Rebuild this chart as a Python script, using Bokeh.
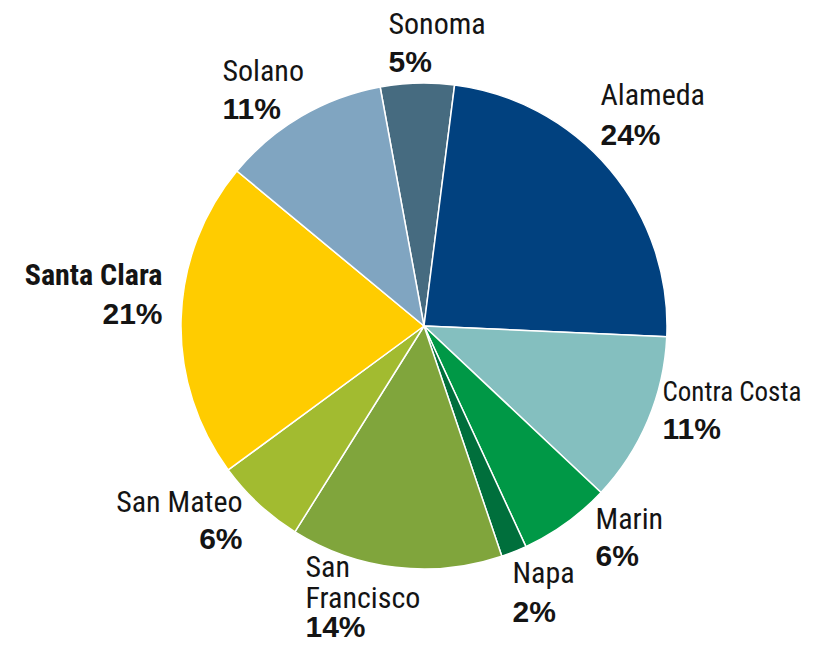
from math import pi
import numpy as np
from bokeh.plotting import figure
from bokeh.models import ColumnDataSource, Range1d
from bokeh.core.properties import value
from bokeh.embed import file_html
from bokeh.resources import INLINE

# ---- data (clockwise from the top) ----
counties = ["Sonoma", "Alameda", "Contra Costa", "Marin", "Napa",
            "San Francisco", "San Mateo", "Santa Clara", "Solano"]
shares = [4.9, 23.7, 11.3, 6.1, 1.7, 14.1, 6.0, 21.1, 11.1]
pct_labels = ["5%", "24%", "11%", "6%", "2%", "14%", "6%", "21%", "11%"]
colors = ["#466b80", "#01417f", "#84bfbf", "#009846", "#006f3c",
          "#80a53c", "#a2bb30", "#ffcc00", "#80a5c1"]

START_DEG = -10.4  # clockwise from 12 o'clock

W, H = 801, 646
p = figure(width=W, height=H, output_backend="svg", toolbar_location=None,
           x_range=Range1d(0, W), y_range=Range1d(-H, 0),
           min_border=0, outline_line_color=None)
p.axis.visible = False
p.grid.visible = False
p.background_fill_color = "white"
p.border_fill_color = "white"

frac = np.array(shares) / np.sum(shares)
cum = np.concatenate([[0], np.cumsum(frac)])
theta0 = np.radians(START_DEG) + cum[:-1] * 2 * pi
theta1 = np.radians(START_DEG) + cum[1:] * 2 * pi
src = ColumnDataSource(dict(
    county=counties, start=pi / 2 - theta0, end=pi / 2 - theta1, color=colors))

cx, cy, R = 423.5, -325.5, 243
p.wedge(x=cx, y=cy, radius=R, start_angle="start", end_angle="end",
        direction="clock", fill_color="color", line_color="white",
        line_width=1.5, source=src)

NAME_FONT = value("Roboto Condensed, Lato")
PCT_FONT = value("Liberation Sans")
TXT = "#141414"
DY = 12  # compensation for rendered baseline

# label layout: (name lines, name baselines, pct baseline, x, align, bold, size)
layout = {
    "Sonoma": (["Sonoma"], [35], 73, 388, "left", False, 30),
    "Alameda": (["Alameda"], [106], 146, 600, "left", False, 30),
    "Contra Costa": (["Contra Costa"], [403], 440, 662, "left", False, 27),
    "Marin": (["Marin"], [530], 567, 595, "left", False, 30),
    "Napa": (["Napa"], [584], 623, 512, "left", False, 30),
    "San Francisco": (["San", "Francisco"], [578, 609], 638, 305, "left", False, 30),
    "San Mateo": (["San Mateo"], [513], 550, 242, "right", False, 30),
    "Santa Clara": (["Santa Clara"], [286], 325, 162, "right", True, 30),
    "Solano": (["Solano"], [82], 120, 222, "left", False, 30),
}

for name, pct in zip(counties, pct_labels):
    lines, ys, py, x, align, bold, size = layout[name]
    for ln, yy in zip(lines, ys):
        p.text(x=[x], y=[-(yy - DY)], text=[ln], text_font=NAME_FONT,
               text_font_size=f"{size}px",
               text_font_style="bold" if bold else "normal",
               text_color=TXT, text_align=align, text_baseline="alphabetic")
    p.text(x=[x], y=[-(py - DY)], text=[pct], text_font=PCT_FONT,
           text_font_size="30px", text_font_style="bold",
           text_color=TXT, text_align=align, text_baseline="alphabetic")

open("out.html", "w").write(file_html(p, INLINE))
